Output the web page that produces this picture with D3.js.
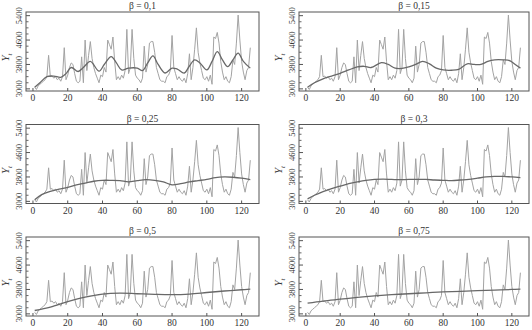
<!DOCTYPE html>
<html><head><meta charset="utf-8">
<script src="https://cdn.jsdelivr.net/npm/d3@7/dist/d3.min.js"></script>
<style>body{margin:0;background:#fff}svg{display:block}</style>
</head><body><svg id="c" width="532" height="330" font-family="'Liberation Serif', 'Times New Roman', 'DejaVu Serif', serif"></svg>
<script>
// Raw series y_t, t = 1..125
const rawValues = [3050,2980,3100,3150,3200,3250,3300,3400,4100,3400,
3420,3350,3400,3300,3350,3250,3400,4350,3300,3450,
3700,3850,3800,3500,3250,3200,3250,4050,3200,4600,
3600,4100,4550,4000,3700,3500,3350,3200,3450,3400,
3700,3550,4600,4450,4300,4700,3900,3300,3400,3300,
3450,3350,3600,4950,3500,3700,4950,4000,3450,3350,
3300,3200,3350,4400,3550,3800,4500,4550,4550,4200,
3700,3500,3300,3250,3250,3200,3400,3450,3600,4750,
3700,3500,3300,3400,3300,3250,3350,3200,3500,4150,
3300,3700,4300,5000,4200,3850,3600,3350,3300,3400,
3250,3450,3150,4700,4650,4850,4500,3900,3550,3300,
3400,3250,3200,3400,3950,3800,4500,5420,4600,3900,
3550,3300,3600,3700,4350];

const betaLabels = ["β = 0,1","β = 0,15","β = 0,25","β = 0,3","β = 0,5","β = 0,75"];

const smoothT01 = [1,4,8,12,16,19,22,26,29,33,38,41,45,48,51,55,60,63,66,69,72,76,80,83,87,90,93,96,100,103,106,109,112,115,118,121,125];
const smooth01  = [3050,3200,3400,3420,3380,3500,3700,3570,3700,3900,3580,3800,4060,3850,3620,3680,3680,3600,3850,4080,3800,3520,3680,3650,3520,3750,3950,3850,3620,3900,4220,3950,3730,3950,4170,3900,3680];

const smoothT015 = [1,5,10,15,20,25,30,34,38,44,48,52,56,60,64,68,72,76,80,85,89,94,98,102,106,110,115,119,122,125];
const smooth015  = [3050,3200,3330,3420,3510,3620,3720,3740,3700,3860,3800,3680,3670,3720,3800,3900,3820,3680,3620,3610,3640,3820,3800,3800,3900,3950,3950,3920,3800,3680];

const smoothT5 = [1,5,10,15,20,25,30,35,40,45,50,55,60,65,70,75,80,85,90,95,100,105,110,115,120,125];
const smooth025 = [3050,3220,3330,3400,3460,3540,3600,3660,3690,3690,3680,3640,3680,3710,3690,3640,3540,3580,3640,3680,3720,3780,3800,3790,3760,3710];
const smooth03  = [3080,3200,3320,3420,3500,3580,3640,3690,3720,3730,3720,3710,3720,3720,3720,3700,3690,3680,3700,3720,3760,3800,3820,3820,3800,3780];

const smoothT10 = [1,10,20,30,40,50,60,70,80,90,100,110,120,125];
const smooth05  = [3110,3220,3400,3550,3650,3680,3660,3640,3630,3650,3700,3750,3790,3810];
const smooth075 = [3350,3420,3480,3540,3590,3630,3660,3690,3720,3740,3760,3780,3800,3810];

const xTicks = [0,20,40,60,80,100,120];
const yTicks = [3000,3800,4600,5400];
const yMinor = [3200,3400,3600,4000,4200,4400,4800,5000,5200];

const smooths = [
  [smoothT01, smooth01],[smoothT015, smooth015],
  [smoothT5, smooth025],[smoothT5, smooth03],
  [smoothT10, smooth05],[smoothT10, smooth075]
];

const svg = d3.select("#c");
const colX = [[26,259],[299,529]];
const rowTop = [12,124.5,237];
const H = 79;

smooths.forEach((s,i)=>{
  const col = i%2, row = Math.floor(i/2);
  const [x0,x1] = colX[col];
  const y0 = rowTop[row], y1 = y0+H;
  const x = d3.scaleLinear().domain([-4,130]).range([x0,x1]);
  const y = d3.scaleLinear().domain([2930,5520]).range([y1,y0]);
  const g = svg.append("g");
  // raw
  g.append("path").datum(rawValues)
    .attr("d", d3.line().x((d,k)=>x(k+1)).y(d=>y(d)))
    .attr("fill","none").attr("stroke","#a3a3a3").attr("stroke-width",1);
  // smooth
  const pts = s[0].map((t,k)=>[t,s[1][k]]);
  g.append("path").datum(pts)
    .attr("d", d3.line().x(d=>x(d[0])).y(d=>y(d[1])).curve(d3.curveCatmullRom))
    .attr("fill","none").attr("stroke","#686868").attr("stroke-width",1.3);
  // frame
  g.append("rect").attr("x",x0).attr("y",y0).attr("width",x1-x0).attr("height",H)
    .attr("fill","none").attr("stroke","#555").attr("stroke-width",1);
  // y ticks
  yTicks.forEach(v=>{
    g.append("line").attr("x1",x0).attr("x2",x0+4).attr("y1",y(v)).attr("y2",y(v)).attr("stroke","#555");
    g.append("text").attr("transform",`translate(${x0-4},${y(v)}) rotate(-90)`)
      .attr("text-anchor","middle").attr("font-size",8.5).attr("fill","#333").text(v);
  });
  yMinor.forEach(v=>{
    g.append("line").attr("x1",x0).attr("x2",x0+2.5).attr("y1",y(v)).attr("y2",y(v)).attr("stroke","#666");
  });
  // x ticks
  xTicks.forEach(v=>{
    g.append("line").attr("x1",x(v)).attr("x2",x(v)).attr("y1",y1).attr("y2",y1-3).attr("stroke","#555");
    g.append("text").attr("x",x(v)).attr("y",y1+10).attr("text-anchor","middle").attr("font-size",9.5).attr("fill","#333").text(v);
  });
  // title
  g.append("text").attr("x",(x0+x1)/2).attr("y",y0-3).attr("text-anchor","middle").attr("font-size",9.5).attr("fill","#333").text(betaLabels[i]);
  // y label
  const yl = g.append("text").attr("transform",`translate(${x0-17},${(y0+y1)/2+6}) rotate(-90)`)
    .attr("text-anchor","middle").attr("font-size",11).attr("font-style","italic").attr("fill","#333");
  yl.append("tspan").text("Y");
  yl.append("tspan").attr("font-size",7).attr("dy",3).text("t");
});
</script></body></html>
